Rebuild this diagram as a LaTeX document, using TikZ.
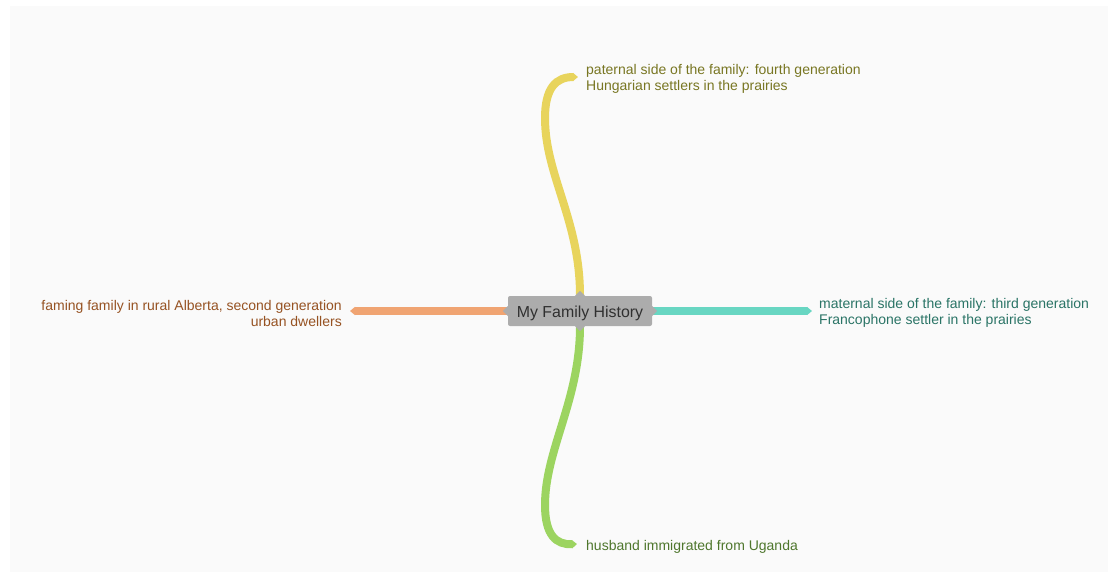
\documentclass[tikz,border=0pt]{standalone}
\usepackage{fontspec}
\setmainfont{Liberation Sans}
\usetikzlibrary{arrows.meta,positioning}
\definecolor{bgGrey}{RGB}{250,250,250}
\definecolor{nodeGrey}{RGB}{172,172,172}
\definecolor{txtGrey}{RGB}{48,48,48}
\definecolor{patYellow}{RGB}{232,212,92}
\definecolor{patText}{RGB}{120,118,34}
\definecolor{matTeal}{RGB}{104,214,194}
\definecolor{matText}{RGB}{42,116,102}
\definecolor{farmOrange}{RGB}{240,164,114}
\definecolor{farmText}{RGB}{150,82,34}
\definecolor{husbGreen}{RGB}{156,212,96}
\definecolor{husbText}{RGB}{78,118,44}

\tikzset{
  branch/.style={line width=8pt, line cap=butt, -{Triangle[length=5pt,width=8pt]}},
  leaf/.style={font=\fontsize{14}{16}\selectfont, inner sep=0pt},
}

\begin{document}
\begin{tikzpicture}[x=1pt,y=-1pt]
    % Canvas
    \useasboundingbox (0,0) rectangle (1115,575);
    \fill[bgGrey] (10,6) rectangle (1108,572);

    % Central topic
    \node[fill=nodeGrey, text=txtGrey, rounded corners=2pt, minimum width=144pt, minimum height=30pt,
          text height=12pt, text depth=0pt,
          font=\fontsize{15.9}{16}\selectfont] (hist) at (580,311) {My Family History};

    % Leaf labels
    \node[leaf, text=patText, anchor=west, align=left] (pat) at (586,79)
        {paternal side of the family: fourth generation\\Hungarian settlers in the prairies};
    \node[leaf, text=matText, anchor=west, align=left] (mat) at (819,313)
        {maternal side of the family: third generation\\Francophone settler in the prairies};
    \node[leaf, text=farmText, anchor=east, align=right] (farm) at (342,313)
        {faming family in rural Alberta, second generation\\urban dwellers};
    \node[leaf, text=husbText, anchor=west, align=left] (husb) at (586,547)
        {husband immigrated from Uganda};

    % Branch tips
    \coordinate (patTip) at ([xshift=-8pt, yshift=2pt]pat.west);
    \coordinate (matTip) at ([xshift=-7pt, yshift=2pt]mat.west);
    \coordinate (farmTip) at ([xshift=8pt, yshift=2pt]farm.east);
    \coordinate (husbTip) at ([xshift=-9pt, yshift=3pt]husb.west);

    % Branches
    \draw[branch, patYellow] (hist.north) .. controls (580,220) and (545,175) .. (545,118)
        .. controls (545,88) and (556,77) .. (patTip);
    \draw[branch, husbGreen] (hist.south) .. controls (580,400) and (545,450) .. (545,505)
        .. controls (545,535) and (556,545) .. (husbTip);
    \draw[branch, farmOrange] (hist.west) -- (farmTip);
    \draw[branch, matTeal] (hist.east) -- (matTip);

    % Notches on the central topic
    \fill[nodeGrey] ([yshift=5pt]hist.west) -- ([xshift=-5pt]hist.west) -- ([yshift=-5pt]hist.west) -- cycle;
    \fill[nodeGrey] ([yshift=5pt]hist.east) -- ([xshift=5pt]hist.east) -- ([yshift=-5pt]hist.east) -- cycle;
    \fill[nodeGrey] ([xshift=-5pt]hist.north) -- ([yshift=5pt]hist.north) -- ([xshift=5pt]hist.north) -- cycle;
    \fill[nodeGrey] ([xshift=-5pt]hist.south) -- ([yshift=-5pt]hist.south) -- ([xshift=5pt]hist.south) -- cycle;
\end{tikzpicture}
\end{document}
